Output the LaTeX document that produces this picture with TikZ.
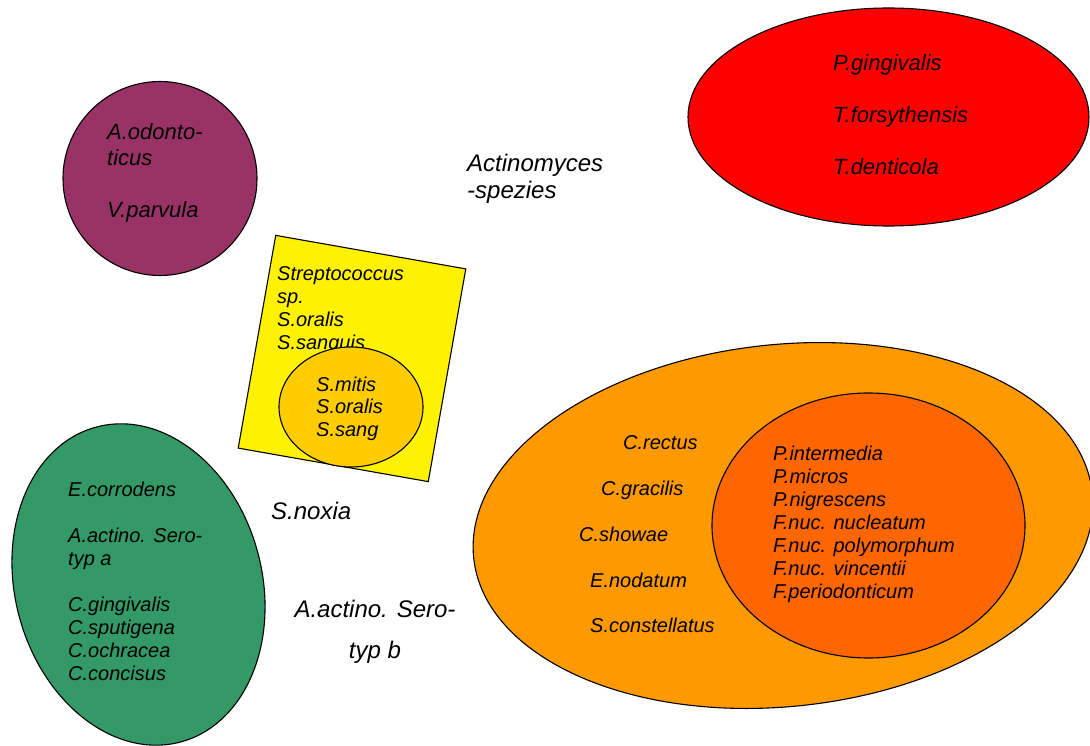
\documentclass[tikz,border=0pt]{standalone}
\usepackage{fontspec}
\setmainfont{Liberation Sans}
\usetikzlibrary{shapes.geometric}
\definecolor{plum}{RGB}{153,51,102}
\definecolor{seagreen}{RGB}{51,153,102}
\definecolor{amber}{RGB}{255,204,0}
\definecolor{tangerine}{RGB}{255,153,0}
\definecolor{rust}{RGB}{255,102,0}
\newcommand\germlist[2][l]{\begin{tabular}[t]{@{}#1@{}}#2\end{tabular}}

\begin{document}
\begin{tikzpicture}[x=1pt, y=-1pt,
  blob/.style={draw, line width=1.1pt, inner sep=0pt, outer sep=0pt},
  germ/.style={anchor=base west, inner sep=0pt, font=\itshape\fontsize{20}{23}\selectfont},
  biggerm/.style={germ, font=\itshape\fontsize{22}{26}\selectfont},
  freegerm/.style={germ, font=\itshape\fontsize{24}{27}\selectfont}]
\clip (0,0) rectangle (1090,746);
\node[blob, circle, fill=plum, minimum size=194pt] (odonto) at (160,178.5) {};
\node[blob, ellipse, fill=red, minimum width=401pt, minimum height=218pt] (redcx) at (888.5,117) {};
\node[blob, rectangle, fill=yellow, minimum width=193pt, minimum height=216pt, rotate=-10] (strepto) at (352,358.5) {};
\node[germ] (streplist) at (277,280) {\germlist{Streptococcus\\sp.\\S.oralis\\S.sanguis}};
\node[blob, ellipse, fill=amber, minimum width=144pt, minimum height=120pt] (mitis) at (351,407) {};
\node[blob, ellipse, fill=seagreen, minimum width=247pt, minimum height=326pt, rotate=15] (greencx) at (138.5,584.5) {};
\node[blob, ellipse, fill=tangerine, minimum width=622pt, minimum height=362pt, rotate=6] (orangecx) at (783,525.5) {};
\node[blob, ellipse, fill=rust, minimum width=313pt, minimum height=265pt] (fuso) at (868.5,525.5) {};

\node[biggerm] (odontolist) at (107,140) {\germlist{A.odonto-\\ticus\\ \\V.parvula}};
\node[biggerm] (redlist) at (833,71) {\germlist{P.gingivalis\\ \\T.forsythensis\\ \\T.denticola}};
\node[freegerm] (actino) at (467,172) {\germlist{Actinomyces\\-spezies}};
\node[germ, font=\itshape\fontsize{20}{22.5}\selectfont] (mitislist) at (316,391) {\germlist{S.mitis\\S.oralis\\S.sang}};
\node[germ] (greenlist) at (68,496) {\germlist{E.corrodens\\ \\A.actino. Sero-\\typ a\\ \\C.gingivalis\\C.sputigena\\C.ochracea\\C.concisus}};
\node[freegerm] (noxia) at (271,519) {S.noxia};
\node[freegerm, anchor=base, font=\itshape\fontsize{24}{41}\selectfont] (serob) at (375,617) {\germlist[c]{A.actino. Sero-\\typ b}};
\node[germ] (rectus) at (623,449) {C.rectus};
\node[germ] (gracilis) at (601,495) {C.gracilis};
\node[germ] (showae) at (579,541) {C.showae};
\node[germ] (nodatum) at (590,587) {E.nodatum};
\node[germ] (constell) at (590,632) {S.constellatus};
\node[germ] (fusolist) at (773,460) {\germlist{P.intermedia\\P.micros\\P.nigrescens\\F.nuc. nucleatum\\F.nuc. polymorphum\\F.nuc. vincentii\\F.periodonticum}};
\end{tikzpicture}
\end{document}
